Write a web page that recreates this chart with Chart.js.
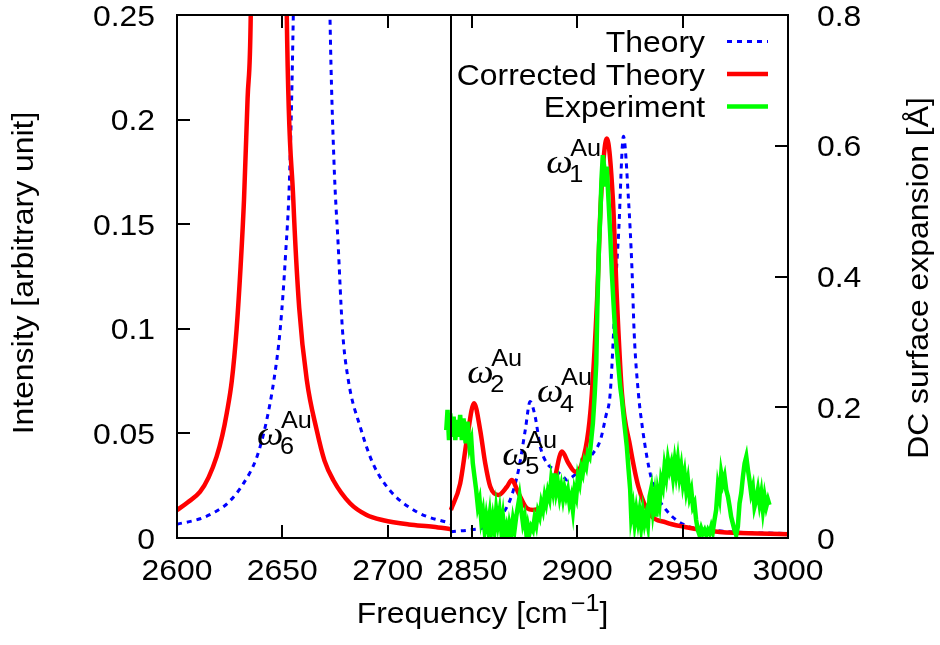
<!DOCTYPE html>
<html>
<head>
<meta charset="utf-8">
<script src="https://cdn.jsdelivr.net/npm/chart.js@4.4.0/dist/chart.umd.min.js"></script>
<style>
  html, body { margin: 0; padding: 0; background: #fff; }
</style>
</head>
<body>
<canvas id="spectrumCanvas" width="940" height="645"></canvas>
<script>
// broken frequency axis: 2600-2730 | 2840-3000
var breakLow = 2730
var breakHigh = 2840
var xTickFreqs = [2600, 2650, 2700, 2850, 2900, 2950, 3000]

// Theory (blue dotted)
var theoryLeftFreq = [2600, 2611, 2619, 2624, 2631.5, 2638, 2642.5, 2646, 2649, 2651.5, 2653.5, 2655.2, 2664,
  2672.6, 2674.5, 2676.5, 2678.5, 2681.3, 2687, 2693, 2701, 2714, 2730]
var theoryLeftVal = [0.0066, 0.0092, 0.013, 0.0166, 0.026, 0.039, 0.056, 0.0755, 0.100, 0.135, 0.175, 0.25, 0.9,
  0.25, 0.18, 0.14, 0.10, 0.0755, 0.053, 0.0356, 0.0228, 0.0124, 0.0069]
var theoryRightFreq = [2840, 2850, 2857.1, 2863.4, 2868.1, 2872.1, 2875.3, 2877.6, 2880, 2882.4, 2885.6, 2889.5,
  2893.4, 2895, 2896.6, 2901.4, 2906.9, 2911, 2913.5, 2915.6, 2917.2, 2918.5, 2919.6, 2921.9, 2924.3, 2925.9,
  2927, 2929, 2931, 2933, 2935, 2937, 2942.5, 2950.4, 2966.2, 3000]
var theoryRightVal = [0.003, 0.004, 0.0054, 0.0102, 0.0182, 0.0325, 0.0516, 0.0652, 0.058, 0.0437, 0.0357, 0.0325,
  0.0293, 0.0277, 0.0285, 0.0325, 0.0397, 0.047, 0.058, 0.069, 0.098, 0.1265, 0.1456, 0.192, 0.1616, 0.1297,
  0.0978, 0.069, 0.052, 0.0389, 0.029, 0.022, 0.013, 0.0065, 0.0035, 0.0021]

// Corrected Theory (red)
var corrLeftFreq = [2600, 2605, 2610.9, 2615, 2618.8, 2621.5, 2623.6, 2626, 2628.3, 2630.2, 2631.8, 2633.5, 2635,
  2643.5, 2652.1, 2655.2, 2658, 2661.6, 2666.3, 2670, 2674.2, 2682.1, 2690, 2697.9, 2710, 2721.6, 2730]
var corrLeftVal = [0.0133, 0.017, 0.022, 0.029, 0.0389, 0.049, 0.0596, 0.075, 0.1, 0.13, 0.1616, 0.21, 0.25,
  1.2, 0.25, 0.1616, 0.11, 0.0755, 0.0516, 0.037, 0.0276, 0.0166, 0.011, 0.0085, 0.0065, 0.0054, 0.0042]
var corrRightFreq = [2840, 2844.4, 2847.6, 2851, 2853.9, 2856.3, 2858.7, 2862.6, 2866.6, 2868.9, 2872.1, 2876.1,
  2879.2, 2884, 2888.7, 2892.7, 2895.8, 2899, 2902.2, 2905.3, 2906.9, 2909.3, 2911.2, 2914, 2916.9, 2918.8,
  2921.2, 2925.1, 2929, 2934.6, 2942, 2950.4, 2962, 2974.1, 3000]
var corrRightVal = [0.0134, 0.026, 0.047, 0.0644, 0.0516, 0.0357, 0.0245, 0.0206, 0.0245, 0.0277, 0.0214, 0.0142,
  0.0134, 0.0158, 0.026, 0.0413, 0.0357, 0.0317, 0.0357, 0.0516, 0.069, 0.112, 0.1616, 0.191, 0.1616, 0.114,
  0.069, 0.0437, 0.0245, 0.0113, 0.0075, 0.0054, 0.0035, 0.0025, 0.0018]

// Experiment (green)
var expFreq = [2837.8, 2838.4, 2839.1, 2839.7, 2840.5, 2841.3, 2842.1, 2842.8, 2843.6, 2844.4, 2845.2, 2846.0,
  2847.0, 2847.9, 2848.9, 2849.7, 2850.4, 2851.2, 2852.0, 2852.8, 2853.6, 2854.4, 2855.2, 2856.0, 2856.8,
  2857.6, 2858.4, 2859.1, 2859.9, 2860.7, 2861.5, 2862.3, 2863.1, 2863.9, 2864.7, 2865.5, 2866.3, 2867.1,
  2867.8, 2868.6, 2869.4, 2870.2, 2871.0, 2871.8, 2872.6, 2873.4, 2874.2, 2875.0, 2875.8, 2876.5, 2877.3,
  2878.1, 2878.9, 2879.7, 2880.5, 2881.3, 2882.1, 2882.9, 2883.7, 2884.5, 2885.2, 2886.0, 2886.8, 2887.6,
  2888.4, 2889.2, 2890.0, 2890.8, 2891.6, 2892.4, 2893.2, 2893.9, 2894.7, 2895.5, 2896.3, 2897.1, 2897.9,
  2898.7, 2899.5, 2900.3, 2901.1, 2901.9, 2902.6, 2903.4, 2904.2, 2905.0, 2905.8, 2906.6, 2907.4, 2908.2,
  2909.0, 2909.6, 2910.3, 2910.9, 2911.5, 2912.1, 2912.7, 2913.3, 2914.0, 2914.8, 2915.6, 2916.4, 2917.2,
  2918.0, 2919.0, 2920.4, 2921.2, 2922.3, 2923.5, 2924.3, 2925.1, 2925.6, 2926.4, 2927.2, 2928.0, 2928.8,
  2929.5, 2930.3, 2931.1, 2931.9, 2932.7, 2933.5, 2934.3, 2935.1, 2935.9, 2936.7, 2937.5, 2938.2, 2939.0,
  2939.8, 2940.6, 2941.4, 2942.2, 2943.0, 2943.8, 2944.6, 2945.4, 2946.2, 2946.9, 2947.7, 2948.5, 2949.3,
  2950.1, 2950.9, 2951.7, 2952.5, 2953.3, 2954.1, 2954.9, 2955.6, 2956.4, 2957.2, 2958.0, 2958.8, 2959.6,
  2960.4, 2961.2, 2962.0, 2962.8, 2963.6, 2964.3, 2965.1, 2965.9, 2966.7, 2967.5, 2968.3, 2969.1, 2969.9,
  2970.7, 2971.5, 2972.3, 2973.0, 2973.8, 2974.6, 2975.4, 2976.2, 2977.0, 2977.8, 2978.6, 2979.4, 2980.2,
  2981.0, 2981.7, 2982.5, 2983.3, 2984.1, 2984.9, 2985.7, 2986.5, 2987.3, 2988.1, 2988.9, 2989.7, 2990.5,
  2991.2]
var expVal = [0.0516, 0.0612, 0.0468, 0.0596, 0.0484, 0.058, 0.0468, 0.0564, 0.0484, 0.0588, 0.0468, 0.0572,
  0.0453, 0.0556, 0.0437, 0.0468, 0.0357, 0.0293, 0.0229, 0.015, 0.0182, 0.0086, 0.0126, 0.0038, 0.0102,
  0.0046, 0.011, 0.003, 0.0094, 0.0038, 0.0134, 0.007, 0.0126, 0.0038, 0.0102, 0.0022, 0.0054, 0.0,
  0.0062, 0.0022, 0.0086, 0.0038, 0.0102, 0.015, 0.0198, 0.0134, 0.007, 0.0102, 0.0022, 0.0062, 0.0022,
  0.0054, 0.0038, 0.0094, 0.0062, 0.0126, 0.0102, 0.0166, 0.0134, 0.0198, 0.0166, 0.0221, 0.019, 0.0277,
  0.0229, 0.0309, 0.0221, 0.0261, 0.0198, 0.0245, 0.019, 0.0237, 0.0198, 0.0229, 0.0166, 0.0198, 0.0134,
  0.0229, 0.0198, 0.0293, 0.0261, 0.0333, 0.0309, 0.0365, 0.0341, 0.0405, 0.0389, 0.0468, 0.0548, 0.0676,
  0.0835, 0.114, 0.14, 0.1536, 0.172, 0.183, 0.178, 0.168, 0.1775, 0.1616, 0.1456, 0.1266, 0.112,
  0.098, 0.088, 0.072, 0.066, 0.055, 0.0437, 0.033, 0.023, 0.0102, 0.015, 0.007, 0.0134, 0.0078,
  0.0126, 0.0054, 0.0126, 0.007, 0.011, 0.0062, 0.0198, 0.0237, 0.0134, 0.0198, 0.0102, 0.0214, 0.0166,
  0.0277, 0.0245, 0.0341, 0.0293, 0.0373, 0.0325, 0.0357, 0.0293, 0.0365, 0.0309, 0.0373, 0.0293, 0.0341,
  0.0261, 0.0309, 0.0229, 0.0277, 0.0198, 0.0229, 0.015, 0.0166, 0.0086, 0.0038, 0.0014, 0.0046, 0.0022,
  0.0038, 0.0014, 0.0038, 0.0022, 0.0054, 0.003, 0.0086, 0.0134, 0.0245, 0.0198, 0.0309, 0.0261, 0.0293,
  0.0229, 0.0198, 0.015, 0.0102, 0.007, 0.0038, 0.0014, 0.0054, 0.0166, 0.0214, 0.0293, 0.0357, 0.0389,
  0.0325, 0.0277, 0.0214, 0.0245, 0.015, 0.0182, 0.0229, 0.0166, 0.0214, 0.0134, 0.0198, 0.015, 0.0182,
  0.0158]

// mode labels (omega^Au_n), anchored at the left/baseline of the omega
var modeNames = ['1', '2', '4', '5', '6']
var modeFreq = [2885.7, 2848.2, 2881.4, 2864.8, 2638.4]
var modeVal = [0.1745, 0.0741, 0.065, 0.0349, 0.0445]

var legendNames = ['Theory', 'Corrected Theory', 'Experiment']
var legendColours = ['#0000ff', '#ff0000', '#00ff00']

var textStretch = 1.1
var mainFont = '29px "Liberation Sans", Arial, sans-serif'
var smallFont = '23px "Liberation Sans", Arial, sans-serif'
var omegaFont = 'italic 34px "Liberation Serif", "DejaVu Serif", serif'

function mapFreq(f) {
  return f > breakLow + 50 ? f - (breakHigh - breakLow) : f
}

function unmapFreq(v) {
  return v > breakLow + 1 ? v + (breakHigh - breakLow) : v
}

function buildPoints(freqs, vals) {
  return freqs.map(function (f, i) { return { x: mapFreq(f), y: vals[i] } })
}

function splitSeries(lf, lv, rf, rv) {
  return buildPoints(lf, lv).concat([{ x: breakLow, y: null }], buildPoints(rf, rv))
}

function drawText(ctx, str, x, y, font, align, rot) {
  ctx.save()
  ctx.translate(x, y)
  if (rot) ctx.rotate(rot)
  ctx.scale(textStretch, 1)
  ctx.font = font
  ctx.textAlign = align
  ctx.textBaseline = 'alphabetic'
  ctx.fillStyle = '#000'
  ctx.fillText(str, 0, 0)
  ctx.restore()
}

function textWidth(ctx, str, font) {
  ctx.font = font
  return ctx.measureText(str).width * textStretch
}

var decorPlugin = {
  id: 'decor',
  afterDatasetsDraw: function (chart) {
    var ctx = chart.ctx
    var a = chart.chartArea
    var xs = chart.scales.x
    var yl = chart.scales.y
    var yr = chart.scales.y2
    var tickLen = 13

    ctx.save()
    ctx.strokeStyle = '#000'
    ctx.lineWidth = 2
    ctx.strokeRect(a.left, a.top, a.right - a.left, a.bottom - a.top)

    // axis break
    var bx = Math.round(xs.getPixelForValue(breakLow))
    ctx.beginPath()
    ctx.moveTo(bx, a.top)
    ctx.lineTo(bx, a.bottom)
    ctx.stroke()

    // inward tick marks + labels
    ctx.beginPath()
    xs.ticks.forEach(function (t) {
      var px = Math.round(xs.getPixelForValue(t.value))
      ctx.moveTo(px, a.bottom); ctx.lineTo(px, a.bottom - tickLen)
      ctx.moveTo(px, a.top); ctx.lineTo(px, a.top + tickLen)
    })
    yl.ticks.forEach(function (t) {
      var py = Math.round(yl.getPixelForValue(t.value))
      ctx.moveTo(a.left, py); ctx.lineTo(a.left + tickLen, py)
    })
    yr.ticks.forEach(function (t) {
      var py = Math.round(yr.getPixelForValue(t.value))
      ctx.moveTo(a.right, py); ctx.lineTo(a.right - tickLen, py)
    })
    ctx.stroke()

    xs.ticks.forEach(function (t) {
      var px = xs.getPixelForValue(t.value)
      drawText(ctx, String(Math.round(unmapFreq(t.value))), px, a.bottom + 42, mainFont, 'center')
    })
    yl.ticks.forEach(function (t) {
      var py = yl.getPixelForValue(t.value)
      drawText(ctx, String(+t.value.toFixed(2)), a.left - 22, py + 10.5, mainFont, 'right')
    })
    yr.ticks.forEach(function (t) {
      var py = yr.getPixelForValue(t.value)
      drawText(ctx, String(+t.value.toFixed(2)), a.right + 29, py + 10.5, mainFont, 'left')
    })

    // axis titles
    drawText(ctx, 'Intensity [arbitrary unit]', 33, 273, mainFont, 'center', -Math.PI / 2)
    drawText(ctx, 'DC surface expansion [Å]', 928, 278, mainFont, 'center', -Math.PI / 2)
    var t1 = 'Frequency [cm', t2 = '\u22121', t3 = ']'
    var w1 = textWidth(ctx, t1, mainFont)
    var w2 = textWidth(ctx, t2, smallFont)
    var w3 = textWidth(ctx, t3, mainFont)
    var sx = (a.left + a.right) / 2 - (w1 + w2 + w3 + 3) / 2
    drawText(ctx, t1, sx, 623, mainFont, 'left')
    drawText(ctx, t2, sx + w1 + 3, 611, smallFont, 'left')
    drawText(ctx, t3, sx + w1 + w2 + 3, 623, mainFont, 'left')

    // mode labels
    modeNames.forEach(function (n, i) {
      var px = xs.getPixelForValue(mapFreq(modeFreq[i]))
      var py = yl.getPixelForValue(modeVal[i])
      drawText(ctx, '\u03c9', px - 1, py, omegaFont, 'left')
      drawText(ctx, n, px + 22, py + 9.5, smallFont, 'left')
      drawText(ctx, 'Au', px + 23, py - 17, smallFont, 'left')
    })

    // legend
    legendNames.forEach(function (name, i) {
      var base = 52 + i * 32.5
      drawText(ctx, name, 705, base, mainFont, 'right')
      ctx.beginPath()
      ctx.strokeStyle = legendColours[i]
      if (i === 0) {
        ctx.lineWidth = 3
        ctx.setLineDash([5, 5])
      } else {
        ctx.lineWidth = 4.5
        ctx.setLineDash([])
      }
      ctx.moveTo(727, base - 10.5)
      ctx.lineTo(768, base - 10.5)
      ctx.stroke()
    })
    ctx.setLineDash([])
    ctx.restore()
  }
}

var ctx = document.getElementById('spectrumCanvas').getContext('2d')

var spectrumChart = new Chart(ctx, {
  type: 'line',
  data: {
    datasets: [
      {
        label: legendNames[0],
        data: splitSeries(theoryLeftFreq, theoryLeftVal, theoryRightFreq, theoryRightVal),
        borderColor: legendColours[0],
        borderWidth: 3,
        borderDash: [5, 5],
        cubicInterpolationMode: 'monotone',
        pointRadius: 0,
        fill: false,
        order: 2
      },
      {
        label: legendNames[1],
        data: splitSeries(corrLeftFreq, corrLeftVal, corrRightFreq, corrRightVal),
        borderColor: legendColours[1],
        borderWidth: 4.5,
        cubicInterpolationMode: 'monotone',
        pointRadius: 0,
        fill: false,
        order: 1
      },
      {
        label: legendNames[2],
        data: buildPoints(expFreq, expVal),
        borderColor: legendColours[2],
        borderWidth: 4.5,
        tension: 0,
        pointRadius: 0,
        fill: false,
        order: 0
      }
    ]
  },
  options: {
    responsive: false,
    animation: false,
    devicePixelRatio: 1,
    layout: { padding: { top: 15, left: 0, right: 0, bottom: 0 } },
    plugins: {
      legend: { display: false },
      tooltip: { enabled: false }
    },
    scales: {
      x: {
        type: 'linear',
        min: 2600,
        max: 2890,
        grid: { display: false },
        border: { display: false },
        ticks: { display: false },
        afterBuildTicks: function (scale) {
          scale.ticks = xTickFreqs.map(function (f) { return { value: mapFreq(f) } })
        },
        afterFit: function (scale) {
          scale.height = 107
          scale.paddingLeft = 0
          scale.paddingRight = 0
        }
      },
      y: {
        position: 'left',
        min: 0,
        max: 0.25,
        grid: { display: false },
        border: { display: false },
        ticks: { display: false, stepSize: 0.05 },
        afterFit: function (scale) {
          scale.width = 177
          scale.paddingTop = 0
          scale.paddingBottom = 0
        }
      },
      y2: {
        position: 'right',
        min: 0,
        max: 0.8,
        grid: { display: false },
        border: { display: false },
        ticks: { display: false, stepSize: 0.2 },
        afterFit: function (scale) {
          scale.width = 152
          scale.paddingTop = 0
          scale.paddingBottom = 0
        }
      }
    }
  },
  plugins: [decorPlugin]
})
</script>
</body>
</html>
